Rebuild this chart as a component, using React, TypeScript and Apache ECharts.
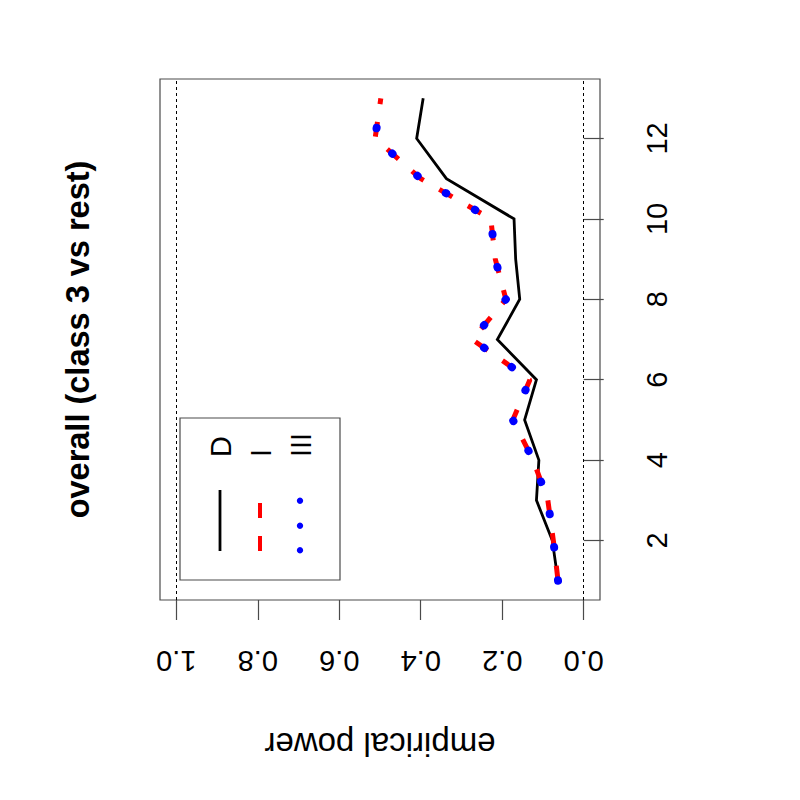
import React, { useEffect, useRef } from "react";
import * as echarts from "echarts";

const indexValues = [1, 2, 3, 4, 5, 6, 7, 8, 9, 10, 11, 12, 13];
const powerD = [0.063, 0.077, 0.116, 0.11, 0.145, 0.116, 0.212, 0.157, 0.167, 0.171, 0.337, 0.41, 0.394];
const powerI = [0.063, 0.0745, 0.088, 0.124, 0.174, 0.132, 0.274, 0.191, 0.217, 0.228, 0.4, 0.512, 0.498];
const powerIII = [0.063, 0.0745, 0.088, 0.124, 0.174, 0.132, 0.274, 0.191, 0.217, 0.228, 0.4, 0.512, 0.498];
const powerTicks = [0, 0.2, 0.4, 0.6, 0.8, 1.0];
const indexTicks = [2, 4, 6, 8, 10, 12];
const refLines = [0, 1];
const legendNames = ["D", "I", "III"];
const titleText = "overall (class 3 vs rest)";
const axisName = "empirical power";

const FONT = "'Liberation Sans', Arial, Helvetica, sans-serif";

export default function App() {
  const ref = useRef<HTMLDivElement>(null);
  useEffect(() => {
    if (!ref.current) return;
    const chart = echarts.init(ref.current, undefined, { renderer: "svg" });
    const pairs = (vals: number[]) => vals.map((v, k) => [v, indexValues[k]]);
    const boxColor = "#4a4a4a";
    const option: any = {
      animation: false,
      backgroundColor: "#fff",
      textStyle: { fontFamily: FONT },
      grid: {
        show: true,
        left: 160,
        top: 79,
        width: 440,
        height: 521,
        borderColor: boxColor,
        borderWidth: 1.2,
        backgroundColor: "transparent",
      },
      xAxis: {
        type: "value",
        min: -0.04,
        max: 1.04,
        inverse: true,
        position: "bottom",
        axisLine: { show: false },
        splitLine: { show: false },
        axisTick: {
          show: true,
          length: 20,
          inside: false,
          customValues: powerTicks,
          lineStyle: { color: boxColor, width: 1.2 },
        },
        axisLabel: {
          show: true,
          customValues: powerTicks,
          rotate: 180,
          margin: 46,
          fontSize: 29,
          color: "#000",
          fontFamily: FONT,
          formatter: (v: number) => v.toFixed(1),
        },
        name: axisName,
        nameLocation: "middle",
        nameRotate: 180,
        nameGap: 128,
        nameTextStyle: { fontSize: 33, color: "#000", fontFamily: FONT },
      },
      yAxis: {
        type: "value",
        min: 0.52,
        max: 13.48,
        position: "right",
        axisLine: { show: false },
        splitLine: { show: false },
        axisTick: {
          show: true,
          length: 20,
          inside: false,
          customValues: indexTicks,
          lineStyle: { color: boxColor, width: 1.2 },
        },
        axisLabel: {
          show: true,
          customValues: indexTicks,
          rotate: 90,
          margin: 42,
          fontSize: 29,
          color: "#000",
          fontFamily: FONT,
        },
      },
      series: [
        {
          name: legendNames[0],
          type: "line",
          data: pairs(powerD),
          showSymbol: false,
          symbol: "none",
          lineStyle: { color: "#000", width: 2.8, join: "miter" },
          markLine: {
            silent: true,
            symbol: "none",
            label: { show: false },
            lineStyle: { color: "#000", width: 1, type: [3, 3] },
            data: refLines.map((v) => ({ xAxis: v })),
          },
          z: 2,
        },
        {
          name: legendNames[1],
          type: "line",
          data: pairs(powerI),
          symbol: "none",
          lineStyle: { color: "#ff0000", width: 5, type: [15, 18], cap: "butt" },
          z: 3,
        },
        {
          name: legendNames[2],
          type: "line",
          data: pairs(powerIII),
          symbol: "none",
          lineStyle: { color: "#0000ff", width: 8, type: [0.5, 33], cap: "round" },
          z: 4,
        },
      ],
      graphic: [
        {
          type: "text",
          x: 78,
          y: 339.5,
          rotation: Math.PI / 2,
          style: {
            text: titleText,
            fontSize: 32.5,
            fontWeight: "bold",
            fontFamily: FONT,
            fill: "#000",
            align: "center",
            verticalAlign: "middle",
          },
        },
        {
          type: "group",
          children: [
            {
              type: "rect",
              shape: { x: 180, y: 418, width: 160, height: 162 },
              style: { fill: "none", stroke: boxColor, lineWidth: 1.2 },
            },
            ...legendNames.map((n, k) => ({
              type: "text",
              x: 221 + k * 40,
              y: 457,
              rotation: Math.PI / 2,
              style: {
                text: n,
                fontSize: 29,
                fontFamily: FONT,
                fill: "#000",
                align: "left",
                verticalAlign: "middle",
              },
            })),
            {
              type: "line",
              shape: { x1: 220, y1: 551, x2: 220, y2: 490 },
              style: { stroke: "#000", lineWidth: 2.8 },
            },
            {
              type: "line",
              shape: { x1: 260, y1: 551, x2: 260, y2: 490 },
              style: { stroke: "#ff0000", lineWidth: 4, lineDash: [15, 18] },
            },
            ...[550.3, 525.7, 500.7].map((cy) => ({
              type: "circle",
              shape: { cx: 300, cy, r: 3.2 },
              style: { fill: "#0000ff" },
            })),
          ],
        },
      ],
    };
    chart.setOption(option);
    return () => chart.dispose();
  }, []);
  return (
    <div
      ref={ref}
      style={{ position: "absolute", left: 0, top: 0, width: 800, height: 800 }}
    />
  );
}
